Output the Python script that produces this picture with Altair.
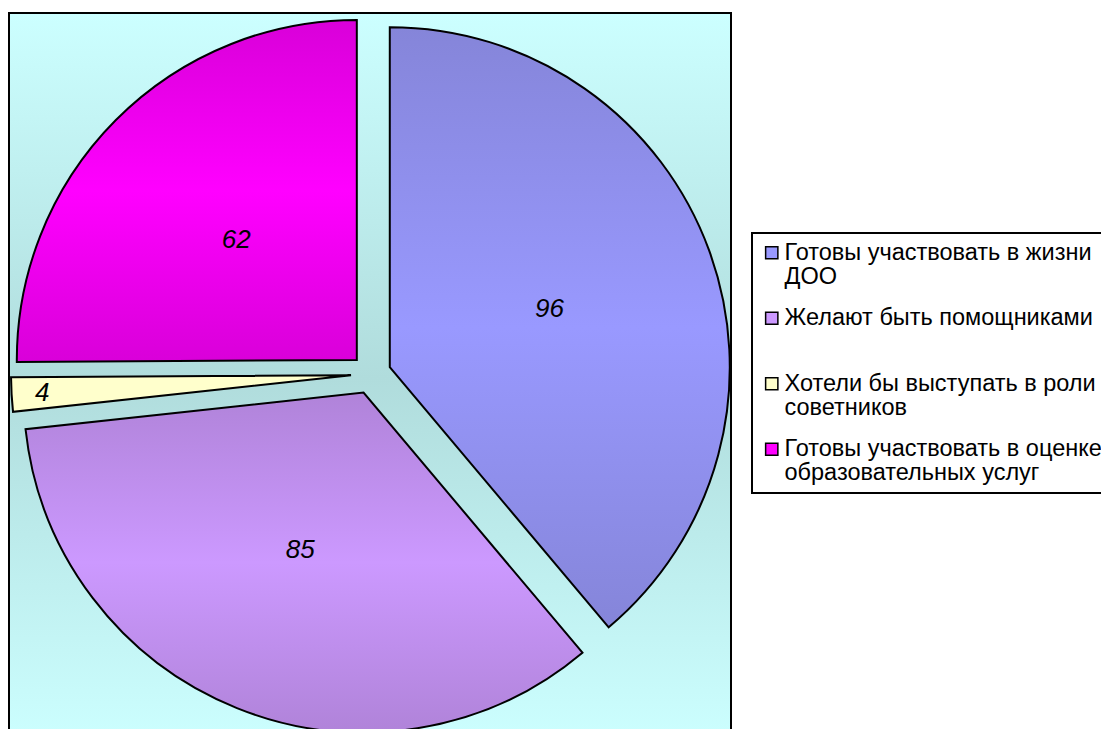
import altair as alt
import pandas as pd

# ---- data ----
categories = [
    "Готовы участвовать в жизни ДОО",
    "Желают быть помощниками",
    "Хотели бы выступать в роли советников",
    "Готовы участвовать в оценке образовательных услуг",
]
legend_labels = [
    "Готовы участвовать в жизни\nДОО",
    "Желают быть помощниками\n ",
    "Хотели бы выступать в роли\nсоветников",
    "Готовы участвовать в оценке\nобразовательных услуг",
]
values = [96, 85, 4, 62]
light_colors = ["#9999ff", "#cc99ff", "#ffffcc", "#ff00ff"]
dark_colors = ["#8585d9", "#b083d9", "#ffffcc", "#d900d9"]

# ---- layout constants ----
W, H = 722, 730
CX, CY = 362, 361      # pie centre inside the plot area
R = 340                # pie radius
D = 20                 # explosion distance

df = pd.DataFrame({"cat": categories, "label": legend_labels, "value": values,
                   "idx": list(range(len(values)))})
bg = pd.DataFrame({"k": [0]})


def grad(dark, light):
    return {"gradient": "linear", "x1": 0, "y1": 0, "x2": 0, "y2": 1,
            "stops": [{"offset": 0, "color": dark},
                      {"offset": 0.5, "color": light},
                      {"offset": 1, "color": dark}]}


base = (
    alt.Chart(df)
    .transform_window(cum="sum(value)", sort=[{"field": "idx"}], frame=[None, 0])
    .transform_joinaggregate(total="sum(value)")
    .transform_calculate(
        start="2*PI*(datum.cum - datum.value)/datum.total",
        end="2*PI*datum.cum/datum.total",
    )
    .transform_calculate(mid="(datum.start + datum.end)/2")
    .transform_calculate(
        px=f"{CX} + {D}*sin(datum.mid)",
        py=f"{CY} - {D}*cos(datum.mid)",
        lr=f"{R}*(datum.value/datum.total < 0.05 ? 0.91 : 0.5)",
    )
    .transform_calculate(
        lx="datum.px + datum.lr*sin(datum.mid)",
        ly="datum.py - datum.lr*cos(datum.mid)",
    )
)

pos = dict(
    x=alt.X("px:Q", scale=None, axis=None),
    y=alt.Y("py:Q", scale=None, axis=None),
    theta=alt.Theta("start:Q", scale=None),
    theta2=alt.Theta2("end:Q"),
)

background = alt.Chart(bg).mark_rect(
    fill=alt.Gradient(gradient="linear", x1=0, y1=0, x2=0, y2=1,
                      stops=[alt.GradientStop(offset=0, color="#ccffff"),
                             alt.GradientStop(offset=0.5, color="#b0dcdc"),
                             alt.GradientStop(offset=1, color="#ccffff")]),
    stroke="black", strokeWidth=2,
).encode(x=alt.value(0), x2=alt.value(W), y=alt.value(0), y2=alt.value(H))

legend_arcs = base.mark_arc(radius=R).encode(
    color=alt.Color(
        "label:N",
        scale=alt.Scale(domain=legend_labels, range=light_colors),
        legend=alt.Legend(
            orient="none", legendX=743, legendY=220, title=None,
            symbolType="square", symbolSize=150,
            symbolStrokeColor="black", symbolStrokeWidth=1.5,
            labelFont="Liberation Sans", labelFontSize=23.5, labelColor="black",
            labelLimit=600, labelOffset=1,
            labelExpr="split(datum.label, '\\n')",
            rowPadding=16.5, padding=8,
            strokeColor="black", fillColor="white",
        ),
    ),
    **pos,
)

conds = [{"test": f"datum.idx == {i}", "value": grad(d, l)}
         for i, (d, l) in enumerate(zip(dark_colors, light_colors))]
grad_arcs = base.mark_arc(radius=R, stroke="black", strokeWidth=2).encode(
    color=alt.ColorValue(value=grad(dark_colors[-1], light_colors[-1]), condition=conds[:-1]),
    **pos,
)

labels = base.mark_text(
    font="Liberation Sans", fontSize=26, fontStyle="italic", color="black",
).encode(
    x=alt.X("lx:Q", scale=None, axis=None),
    y=alt.Y("ly:Q", scale=None, axis=None),
    text="value:Q",
)

chart = (
    alt.layer(background, legend_arcs, grad_arcs, labels)
    .properties(width=W, height=H,
                autosize=alt.AutoSizeParams(type="none"),
                padding={"left": 1, "top": 5, "right": 370, "bottom": 0})
    .configure(style={"guide-label": {"lineHeight": 24}})
    .configure_view(stroke=None)
    .configure_legend(strokeWidth=2)
)

chart.save("out.html", embed_options={"renderer": "svg", "actions": False})
